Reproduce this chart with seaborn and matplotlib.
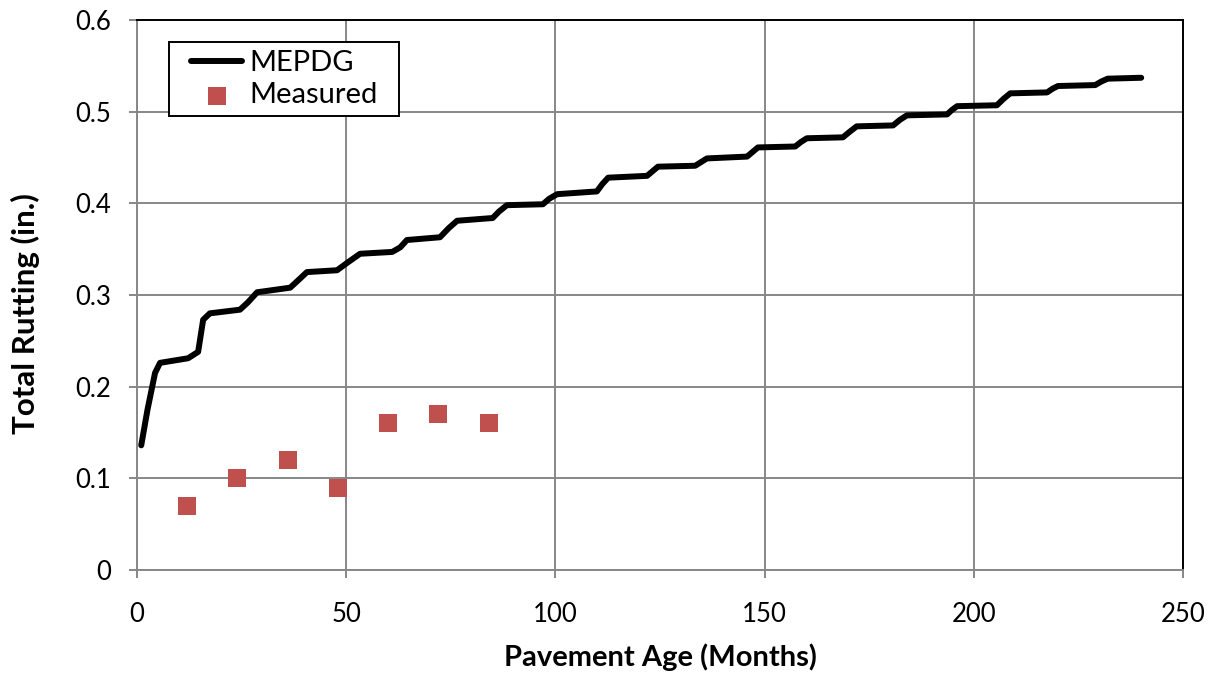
import matplotlib
matplotlib.use("Agg")
import matplotlib.pyplot as plt
from matplotlib.patches import Rectangle
import seaborn as sns
import pandas as pd

# MEPDG predicted rutting (breakpoints of the stepped curve)
mepdg_month = [1, 2.5, 4.3, 5.5, 12.2, 14.6, 15.8, 17.4, 24.6, 26.5, 28.7, 36.6, 38.5, 40.6,
               47.8, 50.5, 53.3, 61, 62.9, 64.5, 72.4, 74.5, 76.5, 85, 86.5, 88.4, 97, 98.5, 100.4,
               109.9, 111.2, 112.6, 121.9, 123.2, 124.5, 133.4, 134.8, 136.2, 145.8, 147.1, 148.4,
               157.3, 158.7, 160.1, 168.7, 170.3, 172, 180.7, 182.3, 184, 193.6, 194.8, 196,
               205.5, 207.1, 208.7, 217.5, 218.8, 220.1, 229, 230.5, 232, 240]
mepdg_rut = [0.136, 0.175, 0.215, 0.226, 0.231, 0.238, 0.273, 0.280, 0.284, 0.292, 0.303, 0.308,
             0.316, 0.325, 0.327, 0.336, 0.345, 0.347, 0.352, 0.360, 0.363, 0.373, 0.381, 0.384,
             0.391, 0.398, 0.399, 0.405, 0.410, 0.413, 0.421, 0.428, 0.430, 0.435, 0.440, 0.441,
             0.445, 0.449, 0.451, 0.456, 0.461, 0.462, 0.467, 0.471, 0.472, 0.478, 0.484, 0.485,
             0.491, 0.496, 0.497, 0.502, 0.506, 0.507, 0.514, 0.520, 0.521, 0.525, 0.528, 0.529,
             0.533, 0.536, 0.537]

# Measured rutting
meas_month = [12, 24, 36, 48, 60, 72, 84]
meas_rut = [0.07, 0.10, 0.12, 0.09, 0.16, 0.17, 0.16]

x_ticks = [0, 50, 100, 150, 200, 250]
y_ticks = [0, 0.1, 0.2, 0.3, 0.4, 0.5, 0.6]
y_tick_labels = ["0", "0.1", "0.2", "0.3", "0.4", "0.5", "0.6"]

sns.set_theme(style="white")
plt.rcParams['font.family'] = ['Lato', 'DejaVu Sans']
plt.rcParams['text.color'] = 'black'
plt.rcParams['axes.labelcolor'] = 'black'

df_line = pd.DataFrame({"month": mepdg_month, "rut": mepdg_rut})
df_pts = pd.DataFrame({"month": meas_month, "rut": meas_rut})

fig = plt.figure(figsize=(12.15, 6.76), dpi=100)
ax = fig.add_axes([0.1128, 0.1568, 0.8609, 0.8136])

grid_c = "#878787"
sns.lineplot(data=df_line, x="month", y="rut", ax=ax, color="black", linewidth=4.3,
             label="MEPDG", solid_joinstyle="round", solid_capstyle="round", zorder=3)
sns.scatterplot(data=df_pts, x="month", y="rut", ax=ax, color="#C0504D", marker="s",
                s=175, linewidth=0, label="Measured", zorder=4)

ax.set_xlim(0, 250)
ax.set_ylim(0, 0.6)
ax.set_xticks(x_ticks)
ax.set_yticks(y_ticks)
ax.set_yticklabels(y_tick_labels)
ax.grid(True, color=grid_c, linewidth=1.4)
ax.set_axisbelow(True)

for s in ["left", "bottom"]:
    ax.spines[s].set_color(grid_c)
    ax.spines[s].set_linewidth(1.4)
for s in ["top", "right"]:
    ax.spines[s].set_color("black")
    ax.spines[s].set_linewidth(1.4)

ax.tick_params(axis="both", which="major", direction="out", length=6, width=1.4,
               color=grid_c, labelsize=18.5, labelcolor="black")
ax.tick_params(axis="y", pad=13)
ax.tick_params(axis="x", pad=17)
ax.tick_params(left=True, bottom=True)

ax.set_xlabel("Pavement Age (Months)", fontsize=21, fontweight="bold", labelpad=12,
              color="black")
ax.set_ylabel("Total Rutting (in.)", fontsize=22.5, fontweight="bold", color="black")
ax.yaxis.set_label_coords(-0.093, 0.467)

# legend frame drawn as a plain rectangle (wider horizontal padding than matplotlib allows)
ax.add_patch(Rectangle((0.0306, 0.8255), 0.2199, 0.1345, transform=ax.transAxes,
                       facecolor="white", edgecolor="black", linewidth=1.4, zorder=5))
leg = ax.legend(loc="upper left", bbox_to_anchor=(0.045, 0.958), fontsize=21,
                frameon=False, handlelength=1.75, handletextpad=0.25, borderpad=0.25,
                labelspacing=0.2, borderaxespad=0)
leg.set_zorder(6)
for t in leg.get_texts():
    t.set_color("black")

fig.savefig("out.png", dpi=100)
